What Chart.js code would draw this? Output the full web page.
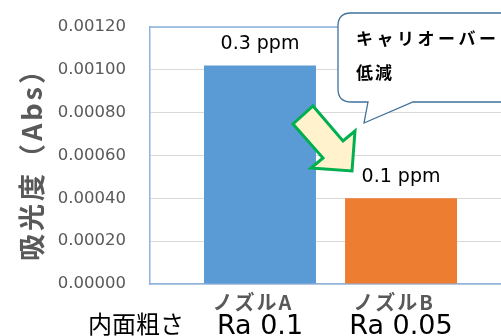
<!DOCTYPE html>
<html>
<head>
<meta charset="utf-8">
<script src="https://cdn.jsdelivr.net/npm/chart.js@4"></script>
<style>
  html, body { margin: 0; padding: 0; background: #fff; }
  #chart { display: block; }
</style>
</head>
<body>
<canvas id="chart" width="501" height="336"></canvas>
<script>
const nozzles = ["ノズルA", "ノズルB"];
const roughness = ["Ra 0.1", "Ra 0.05"];
const absorbance = [0.00102, 0.00040];
const ppmLabels = ["0.3 ppm", "0.1 ppm"];
const barColors = ["#5b9bd5", "#ed7d31"];
const yTicks = [0, 0.0002, 0.0004, 0.0006, 0.0008, 0.0010, 0.0012];
const yTitle = "吸光度（Abs）";

const FRAME = "#8db3e2";
const JP = "'Noto Sans CJK JP', sans-serif";
const NUM = "'DejaVu Sans', sans-serif";

const extras = {
    id: "extras",
    afterDatasetsDraw(chart) {
        const ctx = chart.ctx;
        const area = chart.chartArea;
        const x = chart.scales.x;
        const meta = chart.getDatasetMeta(0);

        ctx.save();
        // top frame line
        ctx.strokeStyle = FRAME;
        ctx.lineWidth = 1.5;
        ctx.beginPath();
        ctx.moveTo(area.left, area.top);
        ctx.lineTo(area.right, area.top);
        ctx.stroke();

        // y title
        ctx.save();
        ctx.translate(32, (area.top + area.bottom) / 2 + 2);
        ctx.rotate(-Math.PI / 2);
        ctx.fillStyle = "#595959";
        ctx.font = "bold 27px " + JP;
        ctx.textAlign = "center";
        ctx.textBaseline = "middle";
        ctx.letterSpacing = "3px";
        ctx.fillText(yTitle, 0, 0);
        ctx.restore();

        // value labels above bars
        ctx.fillStyle = "#000";
        ctx.font = "19px " + NUM;
        ctx.textAlign = "center";
        ctx.textBaseline = "middle";
        meta.data.forEach((bar, i) => {
            ctx.fillText(ppmLabels[i], bar.x, bar.y - 21);
        });

        // category labels
        nozzles.forEach((name, i) => {
            const px = x.getPixelForValue(i + 1);
            ctx.fillStyle = "#595959";
            ctx.font = "bold 20px " + JP;
            ctx.textBaseline = "middle";
            ctx.letterSpacing = "2px";
            ctx.fillText(name, px - 7, 302);
            ctx.letterSpacing = "0px";
            ctx.fillStyle = "#000";
            ctx.font = "27px " + NUM;
            ctx.textBaseline = "alphabetic";
            ctx.fillText(roughness[i], px, 334);
        });
        ctx.font = "24px " + JP;
        ctx.fillStyle = "#000";
        ctx.textBaseline = "middle";
        ctx.fillText("内面粗さ", 136, 324);

        // arrow
        ctx.beginPath();
        const pts = [[293, 124], [313, 106], [343, 141], [355, 131], [352, 171], [311, 168], [323, 158]];
        pts.forEach((p, i) => i ? ctx.lineTo(p[0], p[1]) : ctx.moveTo(p[0], p[1]));
        ctx.closePath();
        ctx.fillStyle = "#fff2cc";
        ctx.fill();
        ctx.strokeStyle = "#00b050";
        ctx.lineWidth = 3;
        ctx.lineJoin = "miter";
        ctx.stroke();

        // callout
        const L = 338, T = 13, B = 102, R = 560, r = 13;
        ctx.beginPath();
        ctx.moveTo(L + r, T);
        ctx.lineTo(R, T);
        ctx.lineTo(R, B);
        ctx.lineTo(413, B);
        ctx.lineTo(364, 123);
        ctx.lineTo(368, B);
        ctx.lineTo(L + r, B);
        ctx.quadraticCurveTo(L, B, L, B - r);
        ctx.lineTo(L, T + r);
        ctx.quadraticCurveTo(L, T, L + r, T);
        ctx.closePath();
        ctx.fillStyle = "#fff";
        ctx.fill();
        ctx.strokeStyle = "#41719c";
        ctx.lineWidth = 1.3;
        ctx.stroke();

        ctx.fillStyle = "#000";
        ctx.font = "bold 17px " + JP;
        ctx.textAlign = "left";
        ctx.letterSpacing = "3.5px";
        ctx.fillText("キャリオーバー", 356, 39);
        ctx.letterSpacing = "2px";
        ctx.fillText("低減", 356, 73);
        ctx.restore();
    }
};

new Chart(document.getElementById("chart").getContext("2d"), {
    type: "bar",
    data: {
        datasets: [{
            data: absorbance.map((v, i) => ({ x: i + 1, y: v })),
            backgroundColor: barColors,
            barPercentage: 0.794,
            categoryPercentage: 1
        }]
    },
    options: {
        responsive: false,
        animation: false,
        layout: { padding: { top: 27, bottom: 52, right: 0 } },
        plugins: { legend: { display: false }, tooltip: { enabled: false } },
        scales: {
            x: {
                type: "linear",
                offset: false,
                min: 0.22,
                max: 2.709,
                afterBuildTicks: (s) => { s.ticks = nozzles.map((n, i) => ({ value: i + 1 })); },
                grid: { display: false, drawTicks: false },
                border: { color: FRAME, width: 1.5 },
                ticks: { display: false }
            },
            y: {
                min: 0,
                max: 0.0012,
                afterFit: (s) => { s.width = 150; s.paddingTop = 0; s.paddingBottom = 0; },
                afterBuildTicks: (s) => { s.ticks = yTicks.map(v => ({ value: v })); },
                grid: { color: "#d9d9d9", drawTicks: false },
                border: { color: FRAME, width: 1.5 },
                ticks: {
                    color: "#595959",
                    font: { family: NUM, size: 16.5 },
                    padding: 24,
                    callback: (v) => Number(v).toFixed(5)
                }
            }
        }
    },
    plugins: [extras]
});
</script>
</body>
</html>
